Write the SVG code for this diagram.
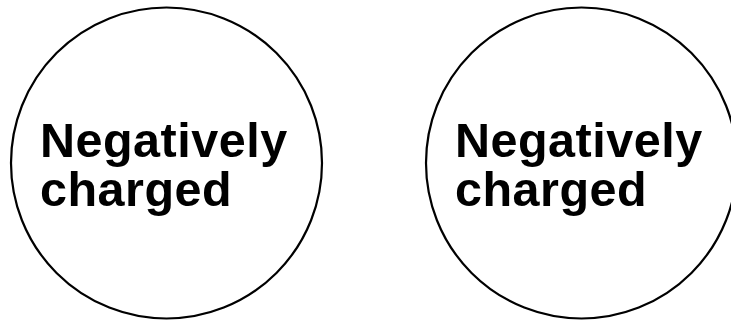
<svg xmlns="http://www.w3.org/2000/svg" width="731" height="320" viewBox="0 0 731 320">
<style>
.c{fill:#fff;stroke:#000;stroke-width:2.2}
.t{font-family:"Liberation Sans",Arial,sans-serif;font-weight:bold;font-size:48.5px;letter-spacing:0.5px;fill:#000}
</style>
<rect width="731" height="320" fill="#fff"/>
<g id="node1">
<circle class="c" cx="166.5" cy="163" r="155.5"/>
<text class="t" x="40" y="157">Negatively</text>
<text class="t" x="40" y="206">charged</text>
</g>
<g id="node2">
<circle class="c" cx="581.5" cy="163" r="155.5"/>
<text class="t" x="455" y="157">Negatively</text>
<text class="t" x="455" y="206">charged</text>
</g>
<g id="connectors"></g>
</svg>
